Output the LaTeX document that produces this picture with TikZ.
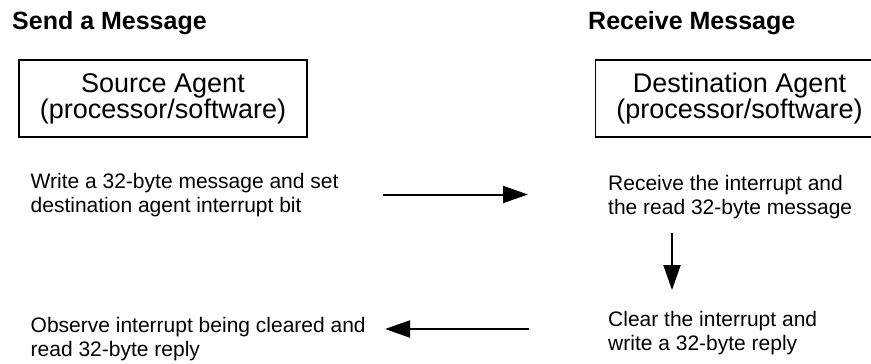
\documentclass[tikz,border=0pt]{standalone}
\usepackage{fontspec}
\setmainfont{Liberation Sans}
\usetikzlibrary{arrows.meta}
\tikzset{
  lbl/.style={anchor=north west, inner sep=0pt, align=left, font=\fontsize{21}{24}\selectfont},
  ttl/.style={anchor=base west, inner sep=0pt, font=\fontsize{25}{28}\selectfont\bfseries},
  agent/.style={draw, line width=1.8pt, inner sep=0pt, align=center,
    minimum width=288pt, minimum height=77pt, font=\fontsize{27}{24.5}\selectfont},
  arr/.style={line width=2pt, -{Triangle[length=25pt,width=17pt]}}
}
\begin{document}
\begin{tikzpicture}[x=1pt,y=-1pt]
\useasboundingbox (0,0) rectangle (871,364);
\clip (0,0) rectangle (871,364);
\node[ttl] (t1) at (12,29.5) {Send a Message};
\node[ttl] (t2) at (588,29.5) {Receive Message};
\node[agent] (src) at (163,98.5) {Source Agent\\(processor/software)};
\node[agent] (dst) at (739.5,98.5) {Destination Agent\\(processor/software)};
\node[lbl] (w1) at (30.5,173.3) {Write a 32-byte message and set\\destination agent interrupt bit};
\node[lbl] (o1) at (30.5,317.5) {Observe interrupt being cleared and\\read 32-byte reply};
\node[lbl] (r1) at (608,174.8) {Receive the interrupt and\\the read 32-byte message};
\node[lbl] (c1) at (608,311.5) {Clear the interrupt and\\write a 32-byte reply};
\coordinate (a1s) at (383,194.5);
\coordinate (a1e) at (528,194.5);
\coordinate (a2s) at (672,232.7);
\coordinate (a2e) at (672,290);
\coordinate (a3s) at (528.7,329);
\coordinate (a3e) at (385,329);
\draw[arr] (a1s) -- (a1e);
\draw[arr] (a2s) -- (a2e);
\draw[arr] (a3s) -- (a3e);
\end{tikzpicture}
\end{document}
